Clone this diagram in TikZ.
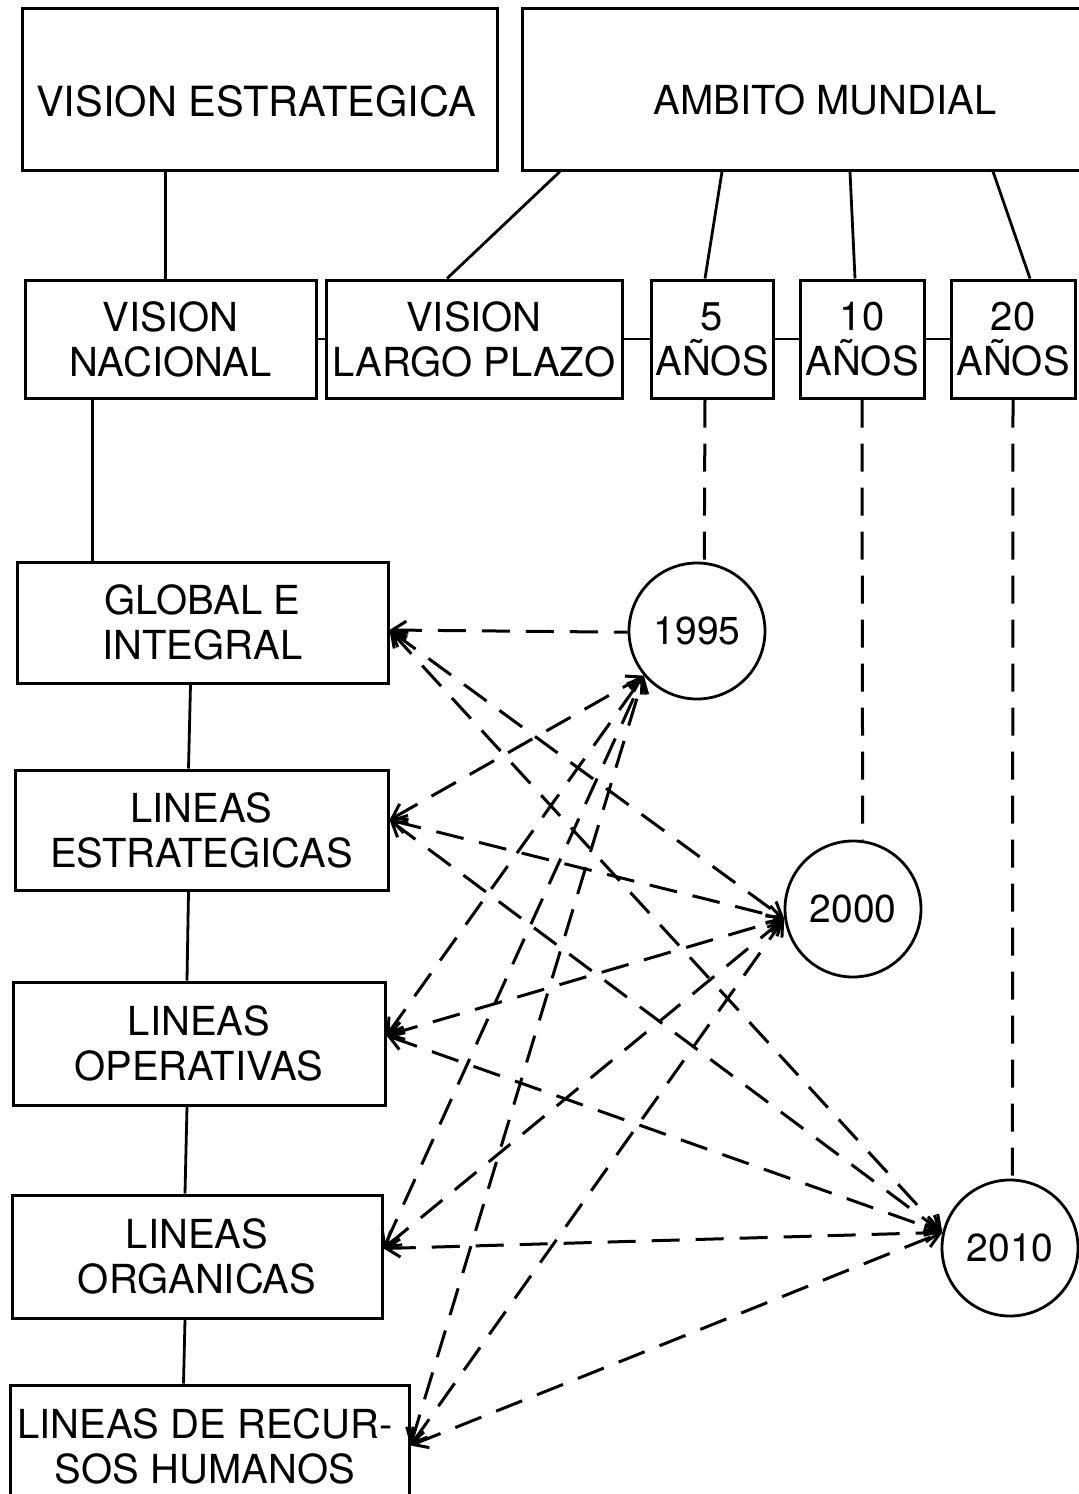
\documentclass[tikz,border=0pt]{standalone}
\usepackage{fontspec}
\setmainfont{TeX Gyre Heros}
\usetikzlibrary{arrows.meta,fit}
\begin{document}
\begin{tikzpicture}[x=0.5pt,y=-0.5pt,
  box/.style={draw, line width=1.5pt, inner sep=0pt},
  lbl/.style={font=\fontsize{20}{22.5}\selectfont, align=center, inner sep=0pt},
  yearc/.style={draw, circle, line width=1.4pt, minimum size=68pt, inner sep=0pt,
                font=\fontsize{19.5}{22}\selectfont},
  link/.style={line width=1.4pt},
  dlink/.style={line width=1.5pt, dash pattern=on 14pt off 8pt},
  barb/.tip={Straight Barb[length=7pt,width=9pt]},
  both/.style={dlink, barb-barb},
  tobox/.style={dlink, barb-},
]
\useasboundingbox (0,0) rectangle (1079,1494);
\clip (0,0) rectangle (1079,1494);

% top row
\node[box, fit={(22,8) (497,170)}] (ve) {};
\node[lbl, font=\fontsize{20.8}{22.5}\selectfont] (ve-t) at (256,101) {VISION ESTRATEGICA};
\node[box, fit={(522,8) (1100,170)}] (am) {};
\node[lbl] (am-t) at (825,100) {AMBITO MUNDIAL};

% horizon row
\node[box, fit={(25,280) (316,398)}] (vn) {};
\node[lbl] (vn-t) at (vn) {VISION\\NACIONAL};
\node[box, fit={(326,280) (622,398)}] (lp) {};
\node[lbl] (lp-t) at (lp) {VISION\\LARGO PLAZO};
\node[box, fit={(651,280) (773,398)}] (a5) {};
\node[lbl] (a5-t) at (a5) {5\\AÑOS};
\node[box, fit={(800,280) (924,398)}] (a10) {};
\node[lbl] (a10-t) at (a10) {10\\AÑOS};
\node[box, fit={(951,280) (1075,398)}] (a20) {};
\node[lbl] (a20-t) at (a20) {20\\AÑOS};

% left column
\node[box, fit={(17,562) (388,683)}] (gi) {};
\node[lbl] (gi-t) at (gi) {GLOBAL E\\INTEGRAL};
\node[box, fit={(15,770) (388,890)}] (le) {};
\node[lbl] (le-t) at (le) {LINEAS\\ESTRATEGICAS};
\node[box, fit={(13,982) (385,1105)}] (lo) {};
\node[lbl] (lo-t) at (lo) {LINEAS\\OPERATIVAS};
\node[box, fit={(12,1195) (382,1318)}] (lg) {};
\node[lbl] (lg-t) at (lg) {LINEAS\\ORGANICAS};
\node[box, fit={(10,1385) (409,1520)}] (rh) {};
\node[lbl] (rh-t) at (205,1446) {LINEAS DE RECUR-\\SOS HUMANOS};

% years
\node[yearc] (c95) at (697,631) {1995};
\node[yearc] (c00) at (853,909) {2000};
\node[yearc] (c10) at (1010,1248) {2010};

% solid links
\draw[link] ([xshift=-47pt]ve.south) -- ([xshift=-2.5pt]vn.north);
\draw[link] ([xshift=-125.5pt]am.south) -- ([xshift=-13.5pt]lp.north);
\draw[link] ([xshift=-44.5pt]am.south) -- ([xshift=-3.5pt]a5.north);
\draw[link] ([xshift=19.5pt]am.south) -- ([xshift=-3.5pt]a10.north);
\draw[link] ([xshift=91pt]am.south) -- ([xshift=8.5pt]a20.north);
\draw[link] (vn.east) -- (lp.west);
\draw[link] (lp.east) -- (a5.west);
\draw[link] (a5.east) -- (a10.west);
\draw[link] (a10.east) -- (a20.west);
\draw[link] ([xshift=-39pt]vn.south) -- ([xshift=-55pt]gi.north);
\draw[link] ([xshift=-6pt]gi.south) -- ([xshift=-6.5pt]le.north);
\draw[link] ([xshift=-6.5pt]le.south) -- ([xshift=-6pt]lo.north);
\draw[link] ([xshift=-6pt]lo.south) -- ([xshift=-6pt]lg.north);
\draw[link] ([xshift=-6pt]lg.south) -- ([xshift=-13pt]rh.north);

% horizon to year
\draw[dlink] ([xshift=-3.5pt]a5.south) -- (c95.84);
\draw[dlink] (a10.south) -- (c00.82);
\draw[dlink] (a20.south) -- (c10.88);

% attachment points
\coordinate (gi-e) at ([yshift=-3.75pt]gi.east);
\coordinate (le-e) at ([yshift=5pt]le.east);
\coordinate (lo-e) at ([yshift=4pt]lo.east);
\coordinate (lg-e) at ([yshift=4pt]lg.east);
\coordinate (rh-e) at ([yshift=3.5pt]rh.east);
\coordinate (c95-a) at (c95.220);
\coordinate (c00-a) at (c00.188);
\coordinate (c10-a) at (c10.167);

% line-to-year links
\draw[tobox] (gi-e) -- (c95.181);
\draw[both] (gi-e) -- (c00-a);
\draw[both] (gi-e) -- (c10-a);
\draw[both] (le-e) -- (c95-a);
\draw[both] (le-e) -- (c00-a);
\draw[both] (le-e) -- (c10-a);
\draw[both] (lo-e) -- (c95-a);
\draw[both] (lo-e) -- (c00-a);
\draw[both] (lo-e) -- (c10-a);
\draw[both] (lg-e) -- (c95-a);
\draw[both] (lg-e) -- (c00-a);
\draw[both] (lg-e) -- (c10-a);
\draw[both] (rh-e) -- (c95-a);
\draw[both] (rh-e) -- (c00-a);
\draw[both] (rh-e) -- (c10-a);
\end{tikzpicture}
\end{document}
